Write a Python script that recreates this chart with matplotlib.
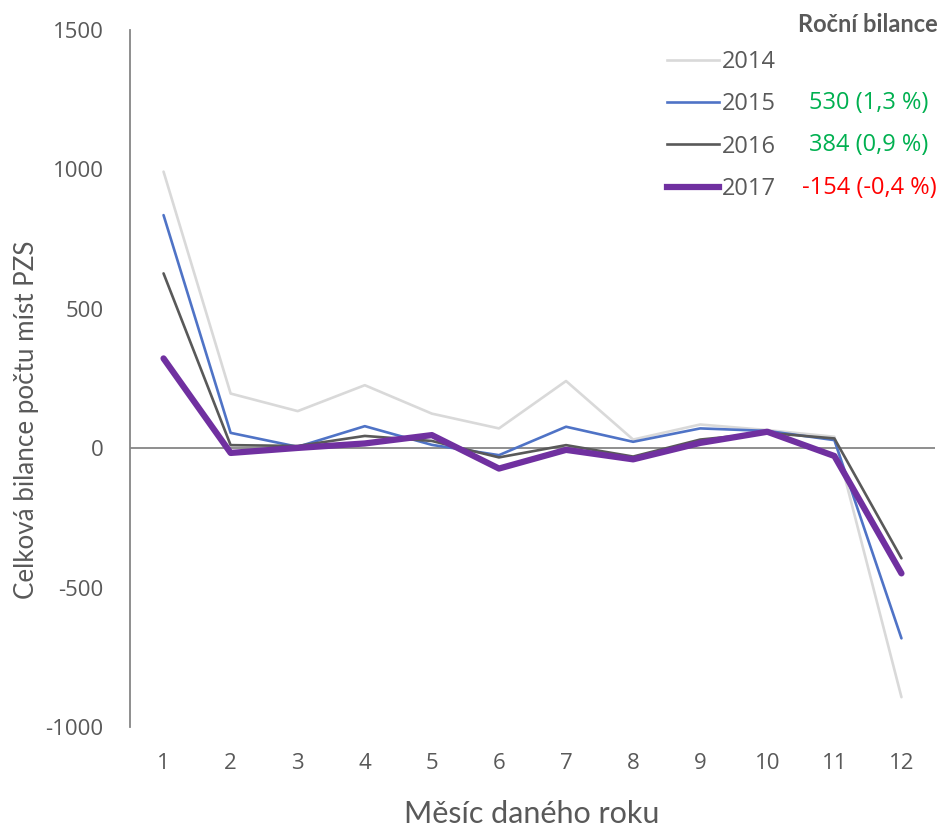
import matplotlib.pyplot as plt
from matplotlib.lines import Line2D
import numpy as np

plt.rcParams['axes.unicode_minus'] = False

months = list(range(1, 13))
years = ['2014', '2015', '2016', '2017']

bal_2014 = [992, 196, 133, 226, 124, 71, 241, 31, 85, 65, 41, -893]
bal_2015 = [836, 55, 5, 79, 12, -25, 77, 23, 71, 62, 29, -682]
bal_2016 = [627, 11, 8, 44, 26, -33, 11, -30, 31, 55, 35, -395]
bal_2017 = [322, -17, 1, 17, 47, -73, -6, -40, 19, 59, -28, -449]

# yearly balance shown next to the legend (absolute, percent)
year_total = [None, 530, 384, -154]
year_pct = [None, 1.3, 0.9, -0.4]

series = [bal_2014, bal_2015, bal_2016, bal_2017]
colors = ['#D9D9D9', '#4F73C6', '#595959', '#7030A0']
widths = [1.9, 1.9, 1.9, 4.5]

text_col = '#595959'
tick_font = 'Open Sans'
label_font = 'Lato'

fig = plt.figure(figsize=(9.46, 8.33), dpi=100)
ax = fig.add_axes([130/946, 1-727/833, 805/946, 697/833])

for vals, c, w in zip(series, colors, widths):
    ax.plot(months, vals, color=c, lw=w, solid_capstyle='round', solid_joinstyle='round')

ax.axhline(0, color='#868686', lw=1.3, zorder=0)

ax.set_xlim(0.5, 12.5)
ax.set_ylim(-1000, 1500)
ax.set_yticks([-1000, -500, 0, 500, 1000, 1500])
ax.set_xticks(months)

for s in ['top', 'right', 'bottom']:
    ax.spines[s].set_visible(False)
ax.spines['left'].set_color('#868686')
ax.spines['left'].set_linewidth(1.3)

ax.tick_params(axis='y', length=0, pad=19, labelsize=16, labelcolor=text_col)
ax.tick_params(axis='x', length=0, pad=19, labelsize=16, labelcolor=text_col)
for lab in ax.get_xticklabels() + ax.get_yticklabels():
    lab.set_fontfamily(tick_font)

# axis titles placed like in the source chart
fig.text(27/946, 1-420/833, 'Celková bilance počtu míst PZS', rotation=90,
         ha='center', va='center', fontsize=18.7, color=text_col, family=label_font)
fig.text(532/946, 1-814/833, 'Měsíc daného roku', ha='center', va='center',
         fontsize=22, color=text_col, family=label_font)

handles = [Line2D([], [], color=c, lw=w) for c, w in zip(colors, widths)]
leg = fig.legend(handles, years, loc='upper left', bbox_to_anchor=(655/946, 1-38/833),
                 frameon=False, handlelength=2.2, handletextpad=0.15, labelspacing=0.78,
                 prop={'family': tick_font, 'size': 17}, borderpad=0)
for t in leg.get_texts():
    t.set_color(text_col)

fig.text(868/946, 1-25/833, 'Roční bilance', ha='center', va='center',
         fontsize=17, fontweight='bold', color=text_col, family=label_font)

row_y = [62, 103, 145, 188]
for i, (tot, pct) in enumerate(zip(year_total, year_pct)):
    if tot is None:
        continue
    txt = f'{tot} ({pct:.1f} %)'.replace('.', ',')
    col = '#00B050' if tot >= 0 else '#FF0000'
    fig.text(869/946, 1-row_y[i]/833, txt, ha='center', va='center',
             fontsize=17, color=col, family=tick_font)

fig.savefig('out.png', dpi=100)
